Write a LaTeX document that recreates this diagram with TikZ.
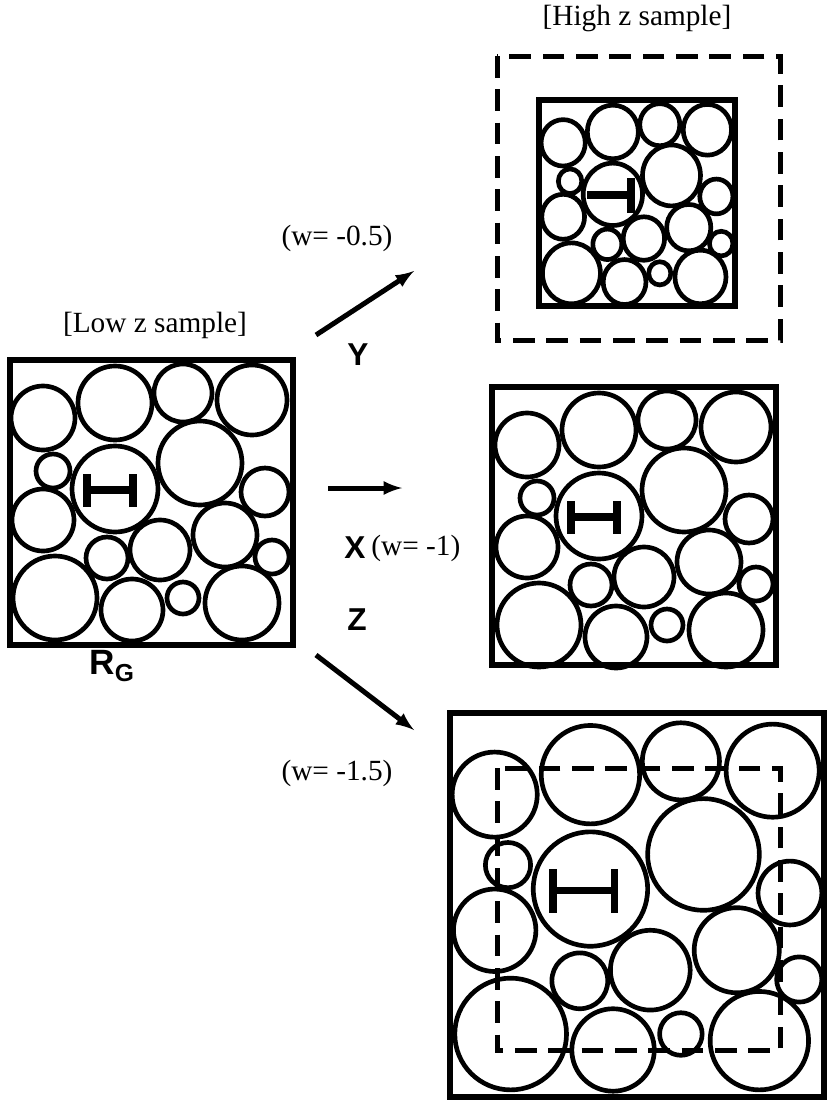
\documentclass[tikz,border=0pt]{standalone}
\usepackage{fontspec}
\setmainfont{Liberation Serif}
\newfontfamily\labelsans{Liberation Sans}
\usetikzlibrary{positioning}
\tikzset{
  boxline/.style={line width=1.8mm},
  dashbox/.style={line width=1.5mm, dash pattern=on 6.5mm off 3.5mm},
  bubble/.style={line width=1.4mm},
  arrowline/.style={line width=1.5mm, -latex},
  hbar/.style={line width=2.3mm},
  caption/.style={font=\fontsize{25}{28}\selectfont},
  axis/.style={font=\labelsans\bfseries\fontsize{27}{30}\selectfont},
}
% circles of one sample, pixel coords around box centre (150,501)
\newcommand{\bubbleset}{%
  \begin{scope}[shift={(-150,-501)}]
  \foreach \cx/\cy/\cr in {43/418/32, 115/403/37, 183/393/29, 252/400/35,
      53/471/17, 115/489/43, 200/463/42, 265/492/24, 43/520/31,
      107/558/21, 160/550/30, 225/535/32, 272/557/17, 55/598/42,
      132/610/31, 183/598/16, 242/603/37}
    \draw[bubble] (\cx,\cy) circle (\cr);
  \end{scope}}
\newcommand{\hmark}[1]{%
  \begin{scope}[shift={(-150,-501)}]
  \draw[hbar] (84,490) -- (136,490) (87,474) -- (87,507) (133,474) -- (133,507);
  \end{scope}}
\begin{document}
\begin{tikzpicture}[x=0.03cm, y=-0.03cm]
  \useasboundingbox (0,0) rectangle (830,1107);
  % low z sample
  \begin{scope}[shift={(150,501)}]
    \bubbleset \hmark{}
    \draw[boxline] (-140,-141) rectangle (143,144);
  \end{scope}
  % high z sample (shrunk)
  \begin{scope}[shift={(637,203)}]
    \begin{scope}[xscale=0.69, yscale=0.725]
      \bubbleset
    \end{scope}
    \draw[hbar] (-50,-8) -- (-4,-8) (-6,-25) -- (-6,10);
    \draw[boxline] (-98,-103) rectangle (98,103);
    \draw[dashbox] (-140,-147) rectangle (143,137);
  \end{scope}
  % x arm
  \begin{scope}[shift={(634,528)}]
    \bubbleset \hmark{}
    \draw[boxline] (-142,-141) rectangle (142,137);
  \end{scope}
  % z arm (grown)
  \begin{scope}[shift={(637,905)}]
    \begin{scope}[scale=1.33]
      \bubbleset \hmark{}
    \end{scope}
    \draw[boxline] (-187,-192) rectangle (187,192);
    \draw[dashbox] (-140,-137) rectangle (143,145);
  \end{scope}
  % labels
  \node[caption] (lowlabel) at (155,325) {[Low z sample]};
  \node[caption] (highlabel) at (637,18) {[High z sample]};
  \node[font=\labelsans\bfseries\fontsize{30}{32}\selectfont] (rg) at (112,666) {R\textsubscript{G}};
  \node[caption] (wy) at (337,238) {(w= -0.5)};
  \node[caption] (wz) at (337,773) {(w= -1.5)};
  \node[axis] (ylab) at (358,355) {Y};
  \node[axis] (xlab) at (355,548) {X};
  \node[caption, right=-2pt of xlab] (wx) {(w= -1)};
  \node[axis] (zlab) at (357,620) {Z};
  % arrows
  \coordinate (ystart) at (316,335);
  \coordinate (yend) at (414,271);
  \coordinate (xstart) at (328,488);
  \coordinate (xend) at (402,488);
  \coordinate (zstart) at (316,655);
  \coordinate (zend) at (414,730);
  \draw[arrowline] (ystart) -- (yend);
  \draw[arrowline] (xstart) -- (xend);
  \draw[arrowline] (zstart) -- (zend);
\end{tikzpicture}
\end{document}
